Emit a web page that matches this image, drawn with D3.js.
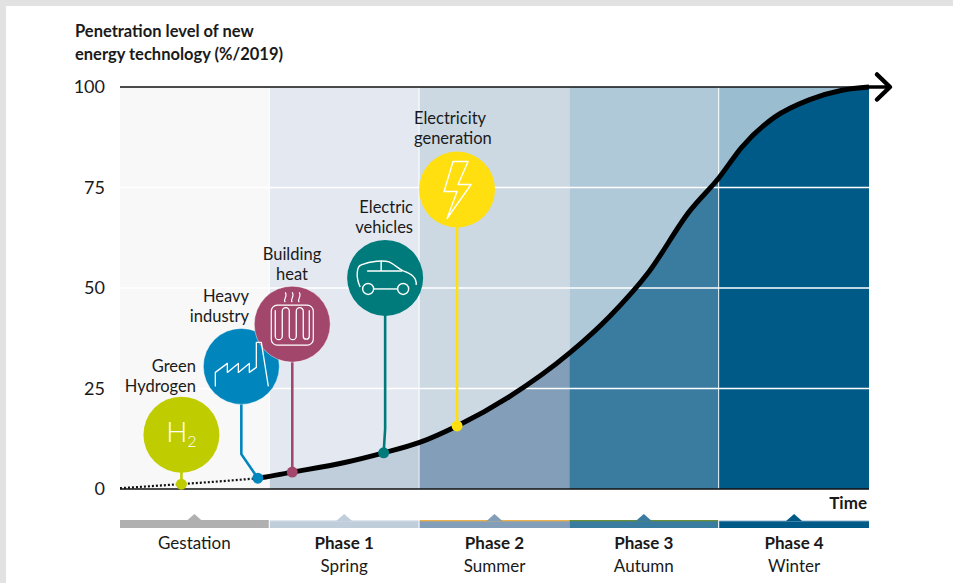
<!DOCTYPE html>
<html><head><meta charset="utf-8">
<script src="https://cdn.jsdelivr.net/npm/d3@7/dist/d3.min.js"></script>
<style>html,body{margin:0;padding:0;background:#fff}svg{display:block}text{font-family:Lato,"Open Sans",sans-serif;fill:#1a1a1a}</style>
</head><body><svg id="c" width="953" height="583"></svg>
<script>
const yTicks=[0,25,50,75,100];
const phaseNames=["Gestation","Phase 1","Phase 2","Phase 3","Phase 4"];
const seasonNames=["","Spring","Summer","Autumn","Winter"];
const phaseStart=[0,1,2,3,4];
const phaseEnd=[0.993,1.993,3,3.993,5];
const upperFill=["#f8f8f8","#e4e9f1","#ccd9e3","#b0c9d9","#9bbdd0"];
const lowerFill=["#f8f8f8","#c0cddb","#839eb9","#3a7ba0","#005a87"];
const barFill=["#b0b0b0","#c0cddb","#839eb9","#3a7ba0","#005a87"];
const barEdge=["#b0b0b0","#dfe5ec","#eeb04a","#6b8e3a","#c5d8e4"];
const curveTime=[0,0.4,0.8,0.92,1.15,1.5,1.76,2,2.25,2.6,3,3.27,3.53,3.8,4,4.15,4.37,4.6,4.82,5];
const curveLevel=[0.2,1.2,2.3,2.7,4.2,6.6,9,11.6,15.7,23,33.8,43,54,69,77.5,85,92.5,96.8,99.2,100];
const techNames=[["Green","Hydrogen"],["Heavy","industry"],["Building","heat"],["Electric","vehicles"],["Electricity","generation"]];
const techTime=[0.41,0.92,1.15,1.76,2.25];
const techLevel=[1.2,2.7,4.2,9,15.7];
const techCircleTime=[0.41,0.81,1.15,1.77,2.25];
const techCircleLevel=[13.5,30.5,41,52.5,74.5];
const techColor=["#bfcd00","#0085bd","#a3466b","#007b7b","#ffdf10"];
const dottedUntil=0.95;

const svg=d3.select("#c");
const x=d3.scaleLinear().domain([0,5]).range([120,869]);
const y=d3.scaleLinear().domain([0,100]).range([489,87]);

svg.append("rect").attr("width",953).attr("height",6).attr("fill","#e2e2e2");
svg.append("rect").attr("width",6).attr("height",583).attr("fill","#e2e2e2");

const idx=d3.range(5);
const line=d3.line().x(i=>x(curveTime[i])).y(i=>y(curveLevel[i])).curve(d3.curveMonotoneX);
const area=d3.area().x(i=>x(curveTime[i])).y0(y(0)).y1(i=>y(curveLevel[i])).curve(d3.curveMonotoneX);
const all=d3.range(curveTime.length);
const defs=svg.append("defs");
idx.forEach(i=>defs.append("clipPath").attr("id","p"+i).append("rect")
  .attr("x",x(phaseStart[i])).attr("y",y(100)).attr("width",x(phaseEnd[i])-x(phaseStart[i])).attr("height",y(0)-y(100)));

svg.append("g").selectAll("rect").data(idx).join("rect")
  .attr("x",i=>x(phaseStart[i])).attr("y",y(100)).attr("width",i=>x(phaseEnd[i])-x(phaseStart[i])).attr("height",y(0)-y(100)).attr("fill",i=>upperFill[i]);
svg.append("g").selectAll("path").data(idx).join("path")
  .attr("clip-path",i=>`url(#p${i})`).attr("d",area(all)).attr("fill",i=>lowerFill[i]);

svg.append("g").selectAll("line").data(yTicks.filter(t=>t>0&&t<100)).join("line")
  .attr("x1",x(0)).attr("x2",x(5)).attr("y1",y).attr("y2",y).attr("stroke","#fff").attr("stroke-width",1.5);

const ax=svg.append("g").attr("transform","translate(105,0)").call(d3.axisLeft(y).tickValues(yTicks).tickSize(0).tickPadding(0));
ax.select(".domain").remove();
ax.selectAll("text").style("font-size","18px").style("font-family","Lato,sans-serif").attr("fill","#1a1a1a");

svg.append("line").attr("x1",x(0)).attr("x2",x(5)).attr("y1",y(0)).attr("y2",y(0)).attr("stroke","#111").attr("stroke-width",1.6);
svg.append("line").attr("x1",x(0)).attr("x2",x(5)+20).attr("y1",y(100)).attr("y2",y(100)).attr("stroke","#111").attr("stroke-width",1.6);

const dotClipW=x(dottedUntil)-x(0);
defs.append("clipPath").attr("id","dotted").append("rect").attr("x",x(0)).attr("y",0).attr("width",dotClipW).attr("height",583);
defs.append("clipPath").attr("id","solid").append("rect").attr("x",x(dottedUntil)).attr("y",0).attr("width",953).attr("height",583);
svg.append("path").attr("d",line(all)).attr("clip-path","url(#dotted)").attr("fill","none").attr("stroke","#111").attr("stroke-width",2.2).attr("stroke-dasharray","2 2");
svg.append("path").attr("d",line(all)).attr("clip-path","url(#solid)").attr("fill","none").attr("stroke","#000").attr("stroke-width",5);
const ax5=x(5),ay=y(100);
svg.append("path").attr("d",`M${ax5+8},${ay-12.5}L${ax5+21},${ay}L${ax5+8},${ay+12.5}`).attr("fill","none").attr("stroke","#000").attr("stroke-width",4.5).attr("stroke-linecap","round").attr("stroke-linejoin","round");
svg.append("line").attr("x1",ax5-5).attr("x2",ax5+20).attr("y1",ay).attr("y2",ay).attr("stroke","#000").attr("stroke-width",3.5);

// leaders
const R=38;
const tech=svg.append("g");
idx.forEach(i=>{
  const cx=x(techCircleTime[i]),cy=y(techCircleLevel[i]),dx=x(techTime[i]),dy=y(techLevel[i]);
  const pts=cx===dx?[[cx,cy],[dx,dy]]:[[cx,cy],[cx,dy-24],[dx,dy]];
  tech.append("path").attr("d",d3.line()(pts)).attr("fill","none").attr("stroke",techColor[i]).attr("stroke-width",2.6);
  tech.append("circle").attr("cx",dx).attr("cy",dy).attr("r",5.5).attr("fill",techColor[i]);
});
idx.forEach(i=>{
  const cx=x(techCircleTime[i]),cy=y(techCircleLevel[i]);
  tech.append("circle").attr("cx",cx).attr("cy",cy).attr("r",R).attr("fill",techColor[i]).attr("stroke",i===2||i===1?"rgba(255,255,255,.55)":"none").attr("stroke-width",0.8);
});
// icons
function icon(i,draw){const g=tech.append("g").attr("transform",`translate(${x(techCircleTime[i])},${y(techCircleLevel[i])})`).attr("fill","none").attr("stroke","#fff").attr("stroke-width",1.4).attr("stroke-linejoin","round");draw(g);}
icon(0,g=>{
  const t=g.append("text").attr("x",0).attr("y",7).attr("text-anchor","middle").attr("stroke","none").style("fill","#fff").style("font-size","28px").style("font-weight","300");
  t.append("tspan").text("H");
  t.append("tspan").attr("dy",5).style("font-size","16px").text("2");
});
icon(1,g=>{
  g.append("path").attr("d","M-26,20V6L-14,-3V6L-3,-3V6L8,-3V6L15,1V-24H20L27,20").attr("stroke-width",1.3);
});
icon(2,g=>{
  g.append("rect").attr("x",-21).attr("y",-19).attr("width",42).attr("height",40).attr("rx",6).attr("stroke-width",1.2);
  g.append("path").attr("d","M-17,-14V12a2,2 0 0 0 7,0V-13a3,3 0 0 1 7,0V12a2,2 0 0 0 7,0V-13a3,3 0 0 1 7,0V12a2,2 0 0 0 6,0V-14").attr("stroke-width",1.3);
  g.append("path").attr("d","M-7,-22c-3,-3 3,-5 0,-10M0,-22c-3,-3 3,-5 0,-10M7,-22c-3,-3 3,-5 0,-10").attr("stroke-width",1.1);
});
icon(3,g=>{
  g.append("path").attr("d","M-25,9C-30,-2 -28,-12 -24,-13C-14,-17 -2,-18 4,-16C10,-13 14,-9 18,-7C24,-5 32,-1 31,7");
  g.append("path").attr("d","M-18,-7H17M-4,-17V-7");
  g.append("path").attr("d","M-12,11H12");
  g.append("circle").attr("cx",-17).attr("cy",11).attr("r",5.5);
  g.append("circle").attr("cx",18).attr("cy",11).attr("r",5.5);
});
icon(4,g=>{
  g.append("path").attr("d","M-4,-28H11L1,-5H14L-10,29L0,2H-13Z");
});
// tech labels
const labelX=[196,249,310,413,458];
const labelY=[372,302,260,213,124];
const labelAnchor=["end","end","middle","end","start"];
const labelStart=[null,null,null,null,414];
idx.forEach(i=>{
  const lx=i===2?292:(i===4?414:labelX[i]);
  techNames[i].forEach((s,k)=>svg.append("text").attr("x",lx).attr("y",labelY[i]+k*19.5).attr("text-anchor",labelAnchor[i]).style("font-size","16.5px").text(s));
});
// title
["Penetration level of new","energy technology (%/2019)"].forEach((s,k)=>svg.append("text").attr("x",75).attr("y",37+k*22.5).style("font-size","16.5px").style("font-weight","700").text(s));
svg.append("text").attr("x",867).attr("y",509).attr("text-anchor","end").style("font-size","17px").style("font-weight","700").text("Time");
// phase bars
svg.append("g").selectAll("rect").data(idx).join("rect")
  .attr("x",i=>x(phaseStart[i])).attr("y",521).attr("width",i=>x(phaseEnd[i])-x(phaseStart[i])).attr("height",7).attr("fill",i=>barFill[i]);
svg.append("g").selectAll("rect").data(idx).join("rect")
  .attr("x",i=>x(phaseStart[i])).attr("y",520).attr("width",i=>x(phaseEnd[i])-x(phaseStart[i])).attr("height",1.3).attr("fill",i=>barEdge[i]);
svg.append("g").selectAll("path").data(idx).join("path")
  .attr("d",i=>{const c=(x(phaseStart[i])+x(phaseEnd[i]))/2;return `M${c-8},521L${c},514L${c+8},521Z`;}).attr("fill",i=>barFill[i]);
idx.forEach(i=>{
  const c=(x(phaseStart[i])+x(phaseEnd[i]))/2;
  svg.append("text").attr("x",c).attr("y",549).attr("text-anchor","middle").style("font-size","17px").style("font-weight",i?700:400).text(phaseNames[i]);
  if(seasonNames[i])svg.append("text").attr("x",c).attr("y",572).attr("text-anchor","middle").style("font-size","17px").text(seasonNames[i]);
});
</script></body></html>
